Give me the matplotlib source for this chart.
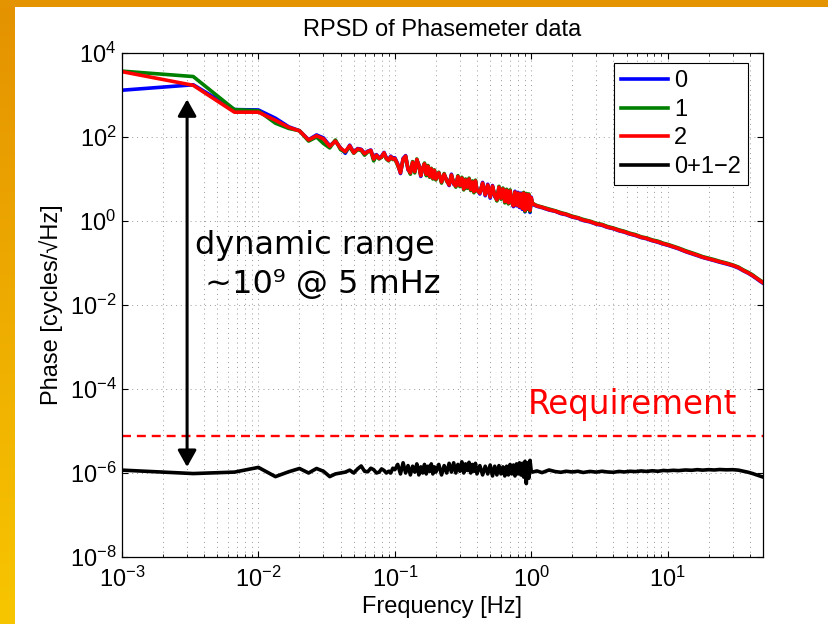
#!/usr/bin/env python3
"""
RPSD of phasemeter data: three channels and the 0+1-2 combination,
with the requirement line and the dynamic range arrow.
"""

import numpy as np
import matplotlib
matplotlib.use('Agg')
import matplotlib.pyplot as plt
from matplotlib.colors import LinearSegmentedColormap
from matplotlib.ticker import FixedLocator, LogLocator, NullLocator

plt.rcParams['font.family'] = ['Liberation Sans', 'DejaVu Sans']
plt.rcParams['font.size'] = 17

# ================= data =================
freq = [0.001, 0.00333, 0.00667, 0.01, 0.01333, 0.01667, 0.02, 0.02333, 0.02667, 0.03,
        0.03333, 0.03667, 0.04, 0.04333, 0.04667, 0.05, 0.05333, 0.05667, 0.06, 0.06333,
        0.06667, 0.07, 0.07333, 0.07667, 0.08, 0.08333, 0.08667, 0.09, 0.09333, 0.09667,
        0.1,
        0.105, 0.11, 0.115, 0.12, 0.125, 0.13, 0.135, 0.14, 0.145, 0.15,
        0.155, 0.16, 0.165, 0.17, 0.175, 0.18, 0.185, 0.19, 0.195, 0.2,
        0.21, 0.22, 0.23, 0.24, 0.25, 0.26, 0.27, 0.28, 0.29, 0.3,
        0.31, 0.32, 0.33, 0.34, 0.35, 0.36, 0.37, 0.38, 0.39, 0.4,
        0.42, 0.44, 0.46, 0.48, 0.5, 0.52, 0.54, 0.56, 0.58, 0.6,
        0.62, 0.64, 0.66, 0.68, 0.7, 0.72, 0.74, 0.76, 0.78, 0.8,
        0.82, 0.84, 0.86, 0.88, 0.9, 0.92, 0.94, 0.96, 0.98, 1.0,
        1.02, 1.1, 1.2, 1.35, 1.5, 1.65, 1.8, 2.0, 2.2, 2.4,
        2.7, 3.0, 3.3, 3.6, 4.0, 4.4, 4.8, 5.3, 5.8, 6.4,
        7.0, 7.7, 8.5, 9.3, 10, 11, 12, 13.5, 15, 16.5,
        18, 20, 22, 24, 27, 30, 33, 36, 39, 42,
        45, 48, 50]

# channel 0 (blue)
ch0 = [1300, 1750, 450, 440, 280, 175, 141, 86, 112, 95,
       62, 80, 55, 41, 64, 43, 53, 51, 41, 46,
       49, 31, 38, 32, 35, 43, 32, 29, 35, 31,
       32,
       23, 13.5, 31, 36, 16.5, 14.5, 24, 15.5, 28, 22,
       11.5, 18.5, 22, 13.5, 19.5, 12, 17, 11, 15.5, 10.5,
       13.5, 8.8, 12.5, 9.6, 7.0, 13, 7.5, 7.1, 11, 7.3,
       10, 6.1, 9.1, 6.7, 9.6, 5.8, 8.1, 5.2, 8.6, 5.7,
       4.4, 8.3, 4.0, 7.5, 3.5, 7.0, 3.8, 3.3, 6.1, 3.6,
       5.5, 3.0, 5.1, 2.8, 5.0, 2.9, 2.2, 5.1, 2.3, 4.8,
       2.1, 4.6, 1.9, 4.4, 1.65, 4.1, 1.9, 4.0, 1.6, 3.7,
       2.5, 2.24, 2.08, 1.83, 1.7, 1.5, 1.41, 1.24, 1.16, 1.03,
       0.95, 0.84, 0.79, 0.71, 0.655, 0.585, 0.545, 0.487, 0.452, 0.403,
       0.378, 0.34, 0.312, 0.282, 0.265, 0.239, 0.218, 0.187, 0.167, 0.15,
       0.136, 0.124, 0.114, 0.105, 0.095, 0.086, 0.076, 0.065, 0.057, 0.049,
       0.042, 0.036, 0.033]

# channel 1 (green)
ch1 = [3700, 2750, 450, 420, 213, 160, 141, 80, 100, 70,
       55, 85, 50, 44, 58, 41, 50, 48, 37, 44,
       46, 27, 36, 30, 33, 41, 30, 27, 33, 29,
       30,
       21, 15, 28, 34, 18, 13, 26, 14, 30, 20,
       12.5, 17, 24, 12, 21, 11, 18, 10, 16.5, 9.5,
       14.5, 8, 13.5, 8.8, 7.6, 12, 8.2, 6.4, 12, 6.6,
       11, 5.5, 10, 6.0, 10.5, 5.3, 9, 4.7, 9.4, 5.2,
       4.9, 7.6, 4.4, 6.9, 3.9, 6.5, 4.2, 3.0, 6.7, 3.3,
       6.1, 2.7, 5.7, 2.55, 5.5, 2.65, 2.45, 4.7, 2.5, 4.4,
       2.3, 4.2, 2.1, 4.8, 1.7, 4.5, 1.9, 4.4, 1.7, 3.4,
       2.65, 2.33, 2.15, 1.92, 1.75, 1.58, 1.47, 1.3, 1.2, 1.09,
       0.99, 0.88, 0.83, 0.745, 0.68, 0.615, 0.57, 0.51, 0.475, 0.42,
       0.395, 0.355, 0.33, 0.295, 0.278, 0.25, 0.228, 0.197, 0.176, 0.158,
       0.142, 0.13, 0.12, 0.11, 0.1, 0.09, 0.08, 0.068, 0.06, 0.052,
       0.044, 0.038, 0.035]

# channel 2 (red)
ch2 = [3600, 1700, 390, 390, 250, 170, 140, 85, 107, 90,
       60, 80, 54, 45, 62, 42, 52, 50, 40, 45,
       48, 30, 37, 31, 34, 42, 31, 28, 34, 30,
       31,
       22, 14, 30, 35, 17, 14, 25, 15, 29, 21,
       12, 18, 23, 13, 20, 11.5, 17.5, 10.5, 16, 10,
       14, 8.5, 13, 9.2, 7.2, 12.5, 7.8, 6.8, 11.5, 7.0,
       10.5, 5.8, 9.5, 6.4, 10, 5.6, 8.5, 5.0, 9.0, 5.5,
       4.6, 8.0, 4.2, 7.2, 3.7, 6.8, 4.0, 3.2, 6.4, 3.5,
       5.8, 2.9, 5.4, 2.7, 5.2, 2.8, 2.3, 4.9, 2.4, 4.6,
       2.2, 4.4, 2.0, 4.6, 1.8, 4.3, 2.0, 4.2, 1.8, 3.6,
       2.6, 2.28, 2.12, 1.86, 1.72, 1.53, 1.44, 1.26, 1.18, 1.05,
       0.97, 0.85, 0.81, 0.72, 0.665, 0.595, 0.555, 0.495, 0.46, 0.41,
       0.385, 0.345, 0.318, 0.287, 0.27, 0.243, 0.222, 0.19, 0.17, 0.153,
       0.138, 0.126, 0.116, 0.107, 0.097, 0.088, 0.078, 0.066, 0.058, 0.05,
       0.043, 0.037, 0.034]

# 0+1-2 combination, in units of 1e-6 cycles/sqrt(Hz)
diff_micro = [1.17, 0.97, 1.05, 1.36, 0.82, 1.07, 1.28, 1.0, 1.28, 1.1,
              0.82, 0.95, 1.0, 1.05, 1.17, 1.0, 1.25, 1.47, 1.1, 1.07,
              1.3, 1.2, 1.0, 1.05, 1.25, 1.15, 1.0, 1.1, 1.0, 1.3,
              1.2,
              1.6, 0.95, 1.75, 1.0, 1.5, 0.9, 1.45, 1.05, 1.65, 0.9,
              1.4, 1.0, 1.6, 0.95, 1.45, 1.1, 1.65, 0.95, 1.4, 1.05,
              1.6, 0.9, 1.5, 1.0, 1.7, 1.05, 1.75, 1.0, 1.6, 1.1,
              1.85, 1.0, 1.65, 1.15, 1.8, 1.0, 1.6, 1.1, 1.7, 0.95,
              1.5, 0.9, 1.45, 0.95, 1.55, 0.85, 1.45, 0.9, 1.5, 0.95,
              1.4, 0.85, 1.45, 0.9, 1.6, 0.95, 1.55, 0.85, 1.65, 0.95,
              1.75, 0.9, 1.7, 0.8, 1.9, 0.56, 1.75, 0.75, 2.0, 1.1,
              1.05, 1.12, 1.02, 1.18, 1.08, 1.04, 1.1, 1.06, 1.1, 1.03,
              1.09, 1.05, 1.1, 1.06, 1.04, 1.09, 1.06, 1.1, 1.08, 1.12,
              1.09, 1.13, 1.1, 1.15, 1.13, 1.16, 1.14, 1.18, 1.16, 1.2,
              1.17, 1.2, 1.18, 1.21, 1.19, 1.2, 1.17, 1.1, 1.04, 0.97,
              0.9, 0.84, 0.8]

series_labels = ['0', '1', '2', '0+1\u22122']
series_colors = ['#0000ff', '#008000', '#ff0000', '#000000']

requirement = 7.5e-6
arrow_freq = 3e-3
arrow_top = 790
arrow_bottom = 1.39e-6

y_ticks = [1e-8, 1e-6, 1e-4, 1e-2, 1e0, 1e2, 1e4]

# ================= figure =================
W, H = 829, 624
fig = plt.figure(figsize=(W / 100, H / 100), dpi=100)
fig.patch.set_facecolor('white')

# orange frame on the left and top
bg = fig.add_axes([0, 0, 15 / W, 1])
grad = np.linspace(0, 1, 256).reshape(-1, 1)
frame_cmap = LinearSegmentedColormap.from_list('frame', ['#e49200', '#f8c600'])
bg.imshow(grad, aspect='auto', cmap=frame_cmap)
bg.set_axis_off()
top = fig.add_axes([0, 1 - 7 / H, 1, 7 / H])
top.set_facecolor('#e49400')
top.set_xticks([])
top.set_yticks([])
for s in top.spines.values():
    s.set_visible(False)

ax = fig.add_axes([122 / W, (H - 557) / H, 641 / W, 504 / H])

lw = 2.6
ax.plot(freq, ch0, color=series_colors[0], lw=lw, label=series_labels[0])
ax.plot(freq, ch1, color=series_colors[1], lw=lw, label=series_labels[1])
ax.plot(freq, ch2, color=series_colors[2], lw=lw, label=series_labels[2])
ax.plot(freq, np.array(diff_micro) * 1e-6, color=series_colors[3], lw=lw,
        label=series_labels[3])

ax.axhline(requirement, color='#ff0000', lw=1.7, ls=(0, (3.8, 2.5)))

ax.set_xscale('log')
ax.set_yscale('log')
ax.set_xlim(1e-3, 50)
ax.set_ylim(1e-8, 1e4)

ax.yaxis.set_major_locator(FixedLocator(y_ticks))
ax.yaxis.set_minor_locator(NullLocator())
ax.xaxis.set_major_locator(LogLocator(base=10))
ax.xaxis.set_minor_locator(LogLocator(base=10, subs=np.arange(2, 10)))

ax.tick_params(which='both', direction='in', top=True, right=True, labelsize=17)
ax.tick_params(which='major', length=4.5, width=0.8)
ax.tick_params(which='minor', length=2.5, width=0.6)
ax.tick_params(axis='x', pad=7)
ax.tick_params(axis='y', pad=4)
for s in ax.spines.values():
    s.set_linewidth(0.9)

ax.grid(True, which='major', axis='both', color='0.6', lw=0.7, ls=(0, (1, 4)))
ax.grid(True, which='minor', axis='x', color='0.6', lw=0.7, ls=(0, (1, 4)))

# dynamic range arrow
ax.annotate('', xy=(arrow_freq, arrow_top), xytext=(arrow_freq, arrow_bottom),
            arrowprops=dict(arrowstyle='<|-|>,head_length=0.5,head_width=0.28',
                            mutation_scale=20, color='black', lw=2.2,
                            shrinkA=0, shrinkB=0))

ax.text(0.114, 0.619, 'dynamic range', transform=ax.transAxes, fontsize=23,
        family='DejaVu Sans', ha='left', va='center')
ax.text(0.114, 0.540, ' ~10\u2079 @ 5 mHz', transform=ax.transAxes, fontsize=23,
        family='DejaVu Sans', ha='left', va='center')
ax.text(0.959, 0.302, 'Requirement', transform=ax.transAxes, fontsize=23.5,
        family='DejaVu Sans', color='#ff0000', ha='right', va='center')

ax.set_title('RPSD of Phasemeter data', fontsize=17, pad=12)
ax.set_xlabel('Frequency [Hz]', fontsize=17)
ax.set_ylabel('Phase [cycles/\u221aHz]', fontsize=17)
ax.xaxis.set_label_coords(0.5, -(607 - 557) / 504)
ax.xaxis.label.set_verticalalignment('center')
ax.yaxis.set_label_coords(-(122 - 51) / 641, 0.5)
ax.yaxis.label.set_verticalalignment('center')

leg = ax.legend(loc='upper right', bbox_to_anchor=(0.9766, 0.980), fontsize=17,
                frameon=True, fancybox=False, framealpha=1, edgecolor='black',
                handlelength=2.0, handletextpad=0.25, labelspacing=0.28,
                borderpad=0.3, borderaxespad=0)
leg.get_frame().set_linewidth(0.8)
for line in leg.get_lines():
    line.set_linewidth(2.6)

plt.savefig('out.png', dpi=100)
